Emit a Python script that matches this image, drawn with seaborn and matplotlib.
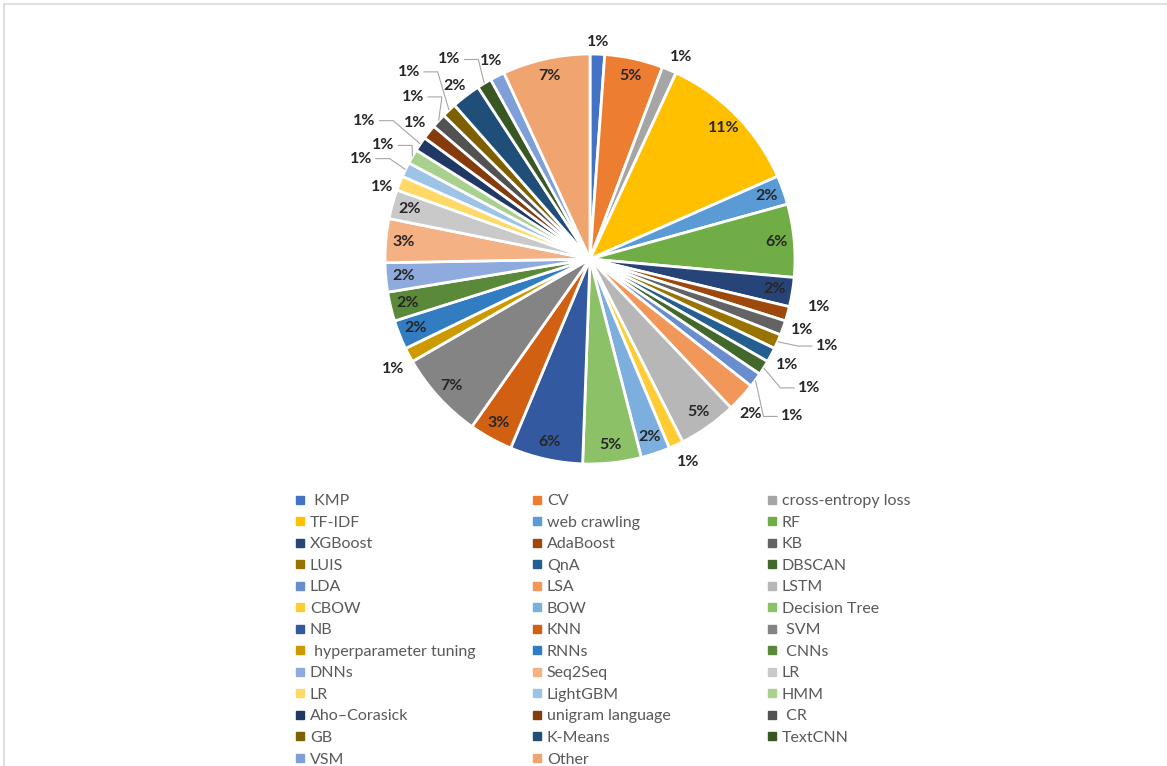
import numpy as np
import pandas as pd
import seaborn as sns
import matplotlib.pyplot as plt
from matplotlib.lines import Line2D

# methods in pie order (clockwise from 12 o'clock), legend text as shown
methods = [" KMP", "CV", "cross-entropy loss", "TF-IDF", "web crawling", "RF",
           "XGBoost", "AdaBoost", "KB", "LUIS", "QnA", "DBSCAN",
           "LDA", "LSA", "LSTM", "CBOW", "BOW", "Decision Tree",
           "NB", "KNN", " SVM", " hyperparameter tuning", "RNNs", " CNNs",
           "DNNs", "Seq2Seq", "LR", "LR", "LightGBM", "HMM",
           "Aho\u2013Corasick", "unigram language", " CR", "GB", "K-Means", "TextCNN",
           "VSM", "Other"]
counts = [1, 4, 1, 10, 2, 5,
          2, 1, 1, 1, 1, 1,
          1, 2, 4, 1, 2, 4,
          5, 3, 6, 1, 2, 2,
          2, 3, 2, 1, 1, 1,
          1, 1, 1, 1, 2, 1,
          1, 6]

colors = ["#4472C4", "#ED7D31", "#A5A5A5", "#FFC000", "#5B9BD5", "#70AD47",
          "#264478", "#9E480E", "#636363", "#997300", "#255E91", "#43682B",
          "#698ED0", "#F1975A", "#B7B7B7", "#FFCD33", "#7CAFDD", "#8CC168",
          "#335AA1", "#D26012", "#848484", "#CC9A00", "#327DC2", "#5A8A39",
          "#8FAADC", "#F4B183", "#C9C9C9", "#FFD966", "#9DC3E6", "#A9D18E",
          "#203864", "#843C0C", "#525252", "#7F6000", "#1F4E79", "#385723",
          "#7F9FD8", "#F0A470"]

# label placement: (radius, angle shift clockwise in degrees)
outside = {0: (1.06, 0), 2: (1.08, 1.6), 7: (1.14, -3.7), 8: (1.09, -1.2),
           10: (1.09, 0.3), 13: (1.09, 1.6), 15: (1.10, -1.0), 21: (1.10, -1.4),
           27: (1.07, -2.7), 31: (1.08, -0.4), 34: (1.07, -0.8), 36: (1.08, 0.4)}
leader = {9: (1.23, -3.6), 11: (1.24, -1.6), 12: (1.25, 1.7), 28: (1.22, -2.2),
          29: (1.15, -1.2), 30: (1.29, -2.6), 32: (1.17, 0.1), 33: (1.27, -0.6),
          35: (1.19, -4.1)}

sns.set_theme(style="white")
plt.rcParams['font.family'] = ['Lato', 'DejaVu Sans']

W, H = 1167, 766
fig = plt.figure(figsize=(W / 100, H / 100), dpi=100)
cx, cy, R = 590, 259, 205
half = 250
ax = fig.add_axes([(cx - half) / W, (H - cy - half) / H, 2 * half / W, 2 * half / H])

wedges, _ = ax.pie(counts, colors=colors, startangle=90, counterclock=False,
                   radius=1, wedgeprops=dict(edgecolor="white", linewidth=2))
lim = half / R
ax.set_xlim(-lim, lim)
ax.set_ylim(-lim, lim)
ax.set_axis_off()

total = sum(counts)
lab_kw = dict(fontsize=11.5, fontweight="bold", color="#262626", ha="center", va="center")
for i, w in enumerate(wedges):
    pct = f"{counts[i] / total * 100:.0f}%"
    mid = np.deg2rad((w.theta1 + w.theta2) / 2)
    if i in outside or i in leader:
        r, shift = outside.get(i, leader.get(i))
        a = mid - np.deg2rad(shift)
        lx, ly = r * np.cos(a), r * np.sin(a)
        ax.text(lx, ly, pct, **lab_kw)
        if i in leader:
            side = 1 if lx < 0 else -1
            ex, ey = 1.0 * np.cos(mid), 1.0 * np.sin(mid)
            ax.plot([ex, lx + side * 0.14, lx + side * 0.07], [ey, ly, ly],
                    color="#A6A6A6", lw=0.8, solid_capstyle="butt")
    else:
        ax.text(0.915 * np.cos(mid), 0.915 * np.sin(mid), pct, **lab_kw)

# legend: three columns laid out row by row
col_x = [300, 537, 772]
for c in range(3):
    idx = list(range(c, len(methods), 3))
    handles = [Line2D([], [], marker="s", linestyle="", markersize=5.5,
                      color=colors[i]) for i in idx]
    leg = fig.legend(handles, [methods[i] for i in idx], loc="upper left",
                     bbox_to_anchor=((col_x[c] - 6) / W, 1 - 494 / H),
                     bbox_transform=fig.transFigure, frameon=False,
                     fontsize=11.5, labelcolor="#595959", handlelength=0.75,
                     handletextpad=0.25, borderpad=0, borderaxespad=0,
                     labelspacing=0.46)

# chart area border (left and top edges visible)
fig.add_artist(plt.Line2D([4 / W, 4 / W], [0, 1 - 4 / H], color="#D9D9D9", lw=1.2))
fig.add_artist(plt.Line2D([4 / W, 1], [1 - 4 / H, 1 - 4 / H], color="#D9D9D9", lw=1.2))

fig.savefig("out.png", dpi=100)
